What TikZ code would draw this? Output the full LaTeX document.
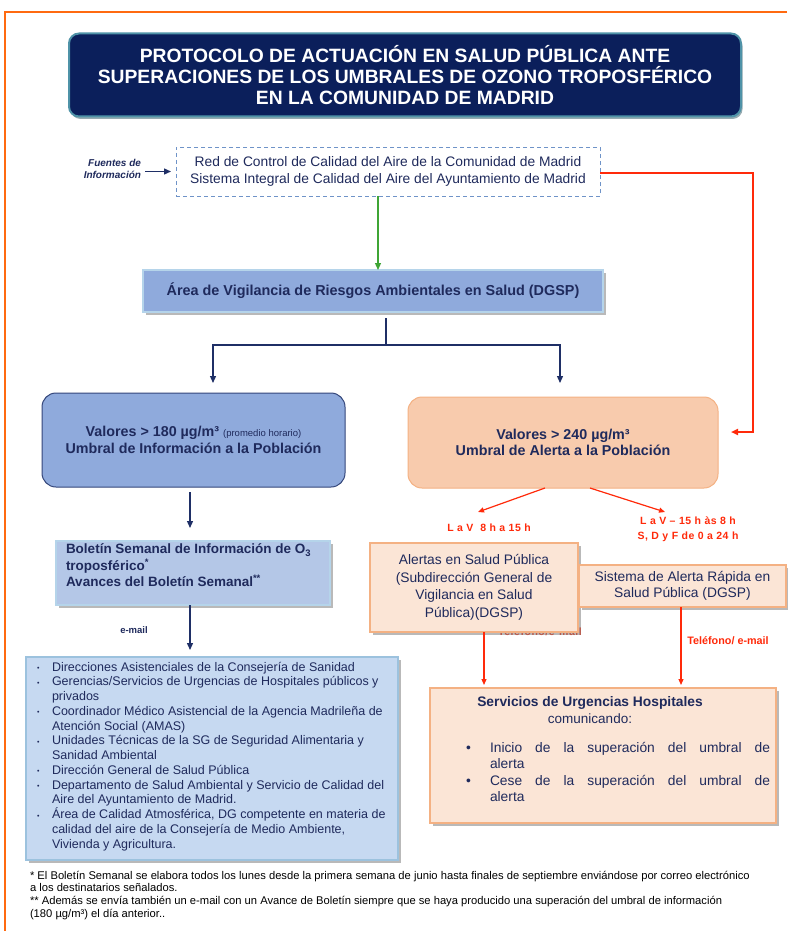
\documentclass[tikz,border=0pt]{standalone}
\usepackage{fontspec}
\setmainfont{Liberation Sans}
\usetikzlibrary{shadows,arrows.meta,calc}
\definecolor{navyfill}{HTML}{0B1F5B}
\definecolor{tealedge}{HTML}{4F93A8}
\definecolor{txt}{HTML}{1F2A5C}
\definecolor{midblue}{HTML}{8FAADC}
\definecolor{paleedge}{HTML}{B5D4EA}
\definecolor{bolfill}{HTML}{B4C7E7}
\definecolor{listfill}{HTML}{C6D9F1}
\definecolor{listedge}{HTML}{9CC2DE}
\definecolor{orfill}{HTML}{F8CBAD}
\definecolor{oredge}{HTML}{F4B183}
\definecolor{lorfill}{HTML}{FBE5D6}
\definecolor{redln}{HTML}{FF2A0A}
\definecolor{frameor}{HTML}{FF6A10}
\definecolor{greenln}{HTML}{3FA535}
\definecolor{dashblue}{HTML}{6F93C8}
\definecolor{lineblue}{HTML}{1F2F66}
\definecolor{leftedge}{HTML}{34467A}
\newcommand\lbul{\makebox[15pt][l]{\raisebox{0.5pt}{\fontsize{7}{7}\selectfont •}}}
\newcommand\lcont{\hspace*{15pt}}
\begin{document}
\begin{tikzpicture}[x=1pt,y=-1pt,
 every node/.style={inner sep=0pt,outer sep=0pt,text=txt},
 shad/.style={drop shadow={shadow xshift=2.5pt,shadow yshift=-2.5pt,fill=black!50,opacity=.55}},
 navyarr/.style={draw=lineblue,line width=1.3pt,-{Triangle[length=7pt,width=6pt]}},
 redarr/.style={draw=redln,line width=1.2pt,-{Triangle[length=6pt,width=5pt]}},
 redlbl/.style={text=redln,font=\bfseries\fontsize{10.5}{15}\selectfont\addfontfeature{LetterSpace=5},align=center},
 bigtxt/.style={font=\bfseries\fontsize{14.3}{16.5}\selectfont,align=center},
]
\useasboundingbox (0,0) rectangle (787,931);
\fill[white] (0,0) rectangle (787,931);
\draw[frameor,line width=1.5pt] (787,12) -- (5,12) -- (5,931);

% title
\node[fill=navyfill,draw=tealedge,line width=2pt,rounded corners=10pt,
  minimum width=672pt,minimum height=83pt,
  drop shadow={shadow xshift=1.5pt,shadow yshift=-2.5pt,fill=tealedge!60!black},
  text=white,font=\bfseries\fontsize{19.3}{21}\selectfont,align=center] (title) at (405,75)
  {PROTOCOLO DE ACTUACIÓN EN SALUD PÚBLICA ANTE\\SUPERACIONES DE LOS UMBRALES DE OZONO TROPOSFÉRICO\\EN LA COMUNIDAD DE MADRID};

% sources
\node[font=\bfseries\itshape\fontsize{10}{11.5}\selectfont,align=right,anchor=east] (fuentes) at (141,169) {Fuentes de\\Información};
\node[draw=dashblue,dash pattern=on 4pt off 3pt,line width=1pt,minimum width=424pt,minimum height=49pt,
  align=center,font=\fontsize{13.8}{17}\selectfont] (src) at (388,171.5)
  {Red de Control de Calidad del Aire de la Comunidad de Madrid\\Sistema Integral de Calidad del Aire del Ayuntamiento de Madrid};
\draw[navyarr] ([xshift=4pt]fuentes.east |- src.west) -- ([xshift=-5pt]src.west);

% DGSP
\node[fill=midblue,draw=paleedge,line width=1.5pt,shad,minimum width=460pt,minimum height=42pt,
  font=\bfseries\fontsize{14.4}{16}\selectfont] (dgsp) at (373,291)
  {Área de Vigilancia de Riesgos Ambientales en Salud (DGSP)};
\draw[draw=greenln,line width=1.2pt,-{Triangle[length=7pt,width=6pt]}] ([xshift=-10pt]src.south) -- ([xshift=5pt]dgsp.north);

% threshold boxes
\node[fill=midblue,draw=leftedge,line width=1pt,rounded corners=14pt,minimum width=303pt,minimum height=94pt,bigtxt] (left) at (193.5,440)
  {Valores > 180 µg/m³ {\mdseries\fontsize{9.5}{10}\selectfont (promedio horario)}\\Umbral de Información a la Población};
\node[fill=orfill,draw=oredge,line width=1pt,rounded corners=14pt,minimum width=310pt,minimum height=91pt,bigtxt] (right) at (563,442.5)
  {Valores > 240 µg/m³\\Umbral de Alerta a la Población};

% red feedback line
\coordinate (rc0) at (753,173);
\coordinate (rc) at (753,432);
\draw[draw=redln,line width=1.8pt,-{Triangle[length=7pt,width=6pt]}] (src.east |- rc0) -- (rc0) -- (rc) -- ([xshift=13pt]rc -| right.east);

% branch
\coordinate (br) at (386,345);
\coordinate (la) at (213,383);
\coordinate (ra) at (560,383);
\draw[lineblue,line width=1.3pt] ([xshift=13pt,yshift=-6pt]dgsp.south) -- (br);
\draw[navyarr] (br) -| (la);
\draw[navyarr] (br) -| (ra);

% red diagonals + labels
\coordinate (d1) at (478,512);
\coordinate (d2) at (665,512);
\draw[redarr] ([xshift=-18pt]right.south) -- (d1);
\draw[redarr] ([xshift=27pt]right.south) -- (d2);
\node[redlbl] (h1) at (489,528) {L a V~~8 h a 15 h};
\node[redlbl] (h2) at (688,529.5) {L a V – 15 h às 8 h\\S, D y F de 0 a 24 h};

% boletin
\node[fill=bolfill,draw=paleedge,line width=1.5pt,shad,minimum width=274pt,minimum height=64pt] (bol) at (193,573) {};
\node[anchor=north west,align=left,font=\bfseries\fontsize{13.5}{16.5}\selectfont] (boltxt) at (66,544)
  {Boletín Semanal de Información de O\textsubscript{3}\\troposférico\textsuperscript{*}\\Avances del Boletín Semanal\textsuperscript{**}};
\draw[navyarr] ([xshift=-3.5pt,yshift=-5pt]left.south) -- ([xshift=-3pt,yshift=13pt]bol.north);

% list
\node[fill=listfill,draw=listedge,line width=1.5pt,shad,minimum width=372pt,minimum height=203pt] (list) at (212,758.5) {};
\draw[navyarr] ([xshift=-3pt]bol.south) -- ([xshift=-22pt,yshift=7pt]list.north);
\node[font=\bfseries\fontsize{9.5}{11}\selectfont] (email) at (134,630) {e-mail};
\node[anchor=north west,align=left,font=\fontsize{12.5}{14.75}\selectfont] (listtxt) at (37,662)
  {\lbul Direcciones Asistenciales de la Consejería de Sanidad\\
   \lbul Gerencias/Servicios de Urgencias de Hospitales públicos y\\
   \lcont privados\\
   \lbul Coordinador Médico Asistencial de la Agencia Madrileña de\\
   \lcont Atención Social (AMAS)\\
   \lbul Unidades Técnicas de la SG de Seguridad Alimentaria y\\
   \lcont Sanidad Ambiental\\
   \lbul Dirección General de Salud Pública\\
   \lbul Departamento de Salud Ambiental y Servicio de Calidad del\\
   \lcont Aire del Ayuntamiento de Madrid.\\
   \lbul Área de Calidad Atmosférica, DG competente en materia de\\
   \lcont calidad del aire de la Consejería de Medio Ambiente,\\
   \lcont Vivienda y Agricultura.};

% alert path
\node[redlbl] (tel1) at (540,632) {Teléfono/e-mail};
\node[fill=lorfill,draw=oredge,line width=1.5pt,shad,minimum width=208pt,minimum height=89pt,
  align=center,font=\fontsize{13.8}{17.5}\selectfont] (alert) at (474,587.5)
  {Alertas en Salud Pública\\(Subdirección General de\\Vigilancia en Salud\\Pública)(DGSP)};
\node[fill=lorfill,draw=oredge,line width=1.5pt,shad,minimum width=207pt,minimum height=42pt,
  align=center,font=\fontsize{13.8}{16.5}\selectfont] (sar) at (682.5,586)
  {Sistema de Alerta Rápida en\\Salud Pública (DGSP)};
\node[text=redln,font=\bfseries\fontsize{10.8}{12}\selectfont] (tel2) at (728,641) {Teléfono/ e-mail};

\node[fill=lorfill,draw=oredge,line width=1.5pt,shad,minimum width=346pt,minimum height=135pt] (serv) at (603,755.5) {};
\draw[redarr] ([xshift=10pt]alert.south) -- ([xshift=-119pt,yshift=3pt]serv.north);
\draw[redarr] ([xshift=-1.5pt]sar.south) -- ([xshift=78pt,yshift=3pt]serv.north);
\node[font=\bfseries\fontsize{13.8}{15}\selectfont] (servt) at (590,703) {Servicios de Urgencias Hospitales};
\node[font=\fontsize{13.5}{15}\selectfont] (servc) at (590,718.5) {comunicando:};
\node[anchor=north west,align=left,font=\fontsize{13.8}{16.5}\selectfont] (servl) at (466,742)
  {\makebox[24pt][l]{•}\makebox[280pt][s]{Inicio de la superación del umbral de}\\
   \hspace*{24pt}alerta\\
   \makebox[24pt][l]{•}\makebox[280pt][s]{Cese de la superación del umbral de}\\
   \hspace*{24pt}alerta};

% footnotes
\node[anchor=north west,align=left,text=black,font=\fontsize{11.2}{12.6}\selectfont] (fn) at (30,871)
  {* El Boletín Semanal se elabora todos los lunes desde la primera semana de junio hasta finales de septiembre enviándose por correo electrónico\\
   a los destinatarios señalados.\\
   ** Además se envía también un e-mail con un Avance de Boletín siempre que se haya producido una superación del umbral de información\\
   (180 µg/m³) el día anterior..};
\end{tikzpicture}
\end{document}
